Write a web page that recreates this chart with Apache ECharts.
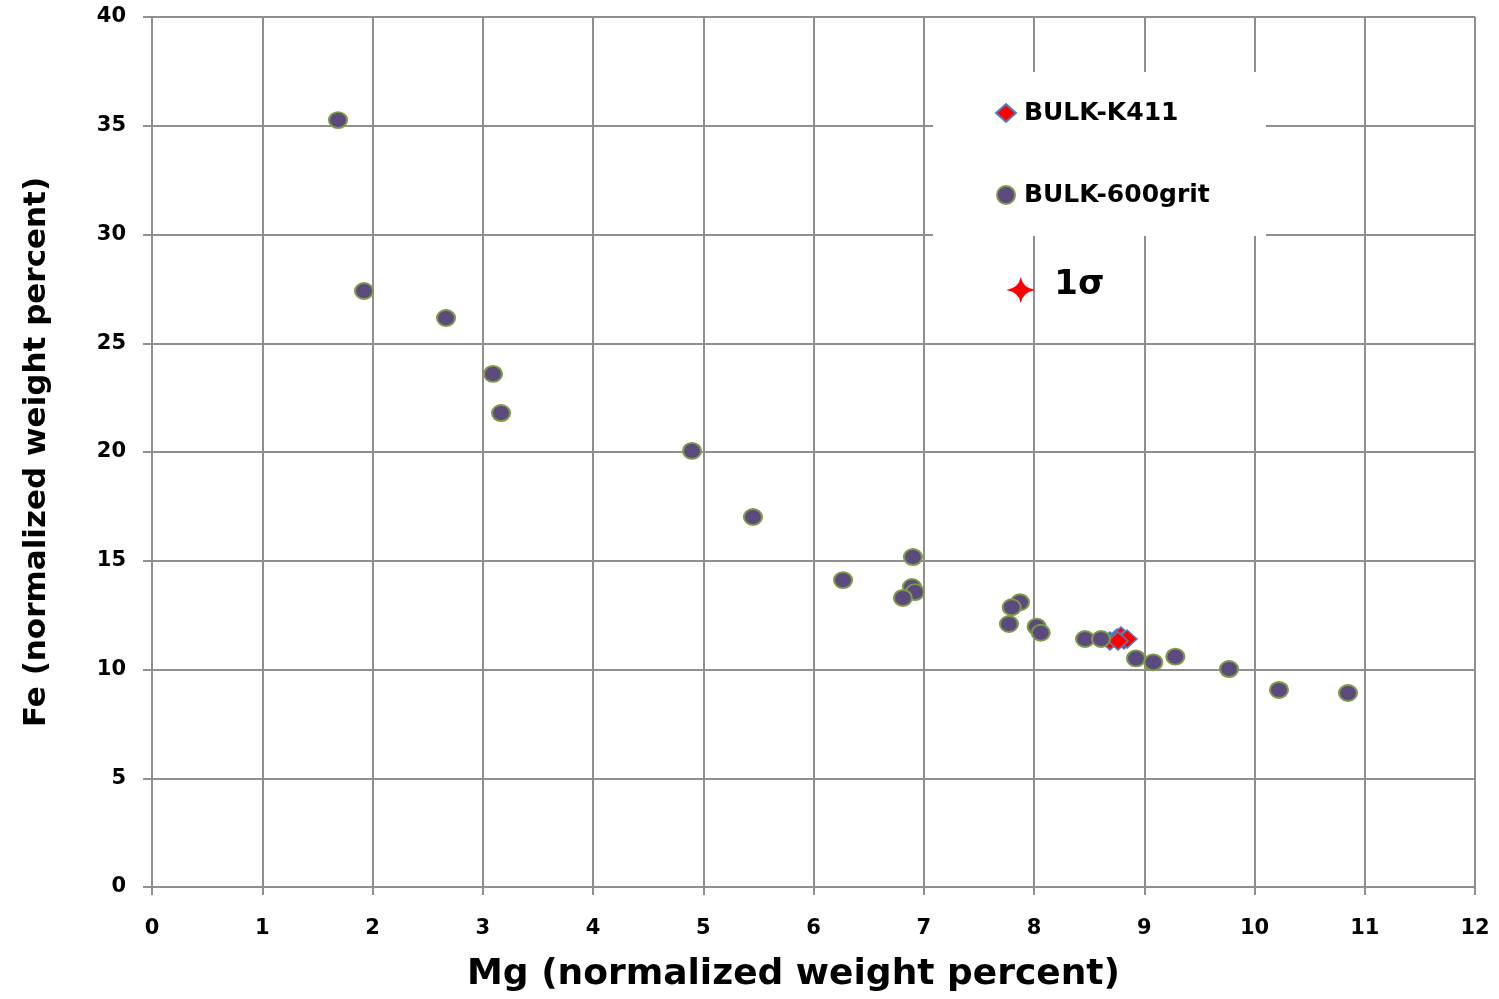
<!DOCTYPE html>
<html>
<head>
<meta charset="utf-8">
<script src="https://cdn.jsdelivr.net/npm/echarts@6/dist/echarts.min.js"></script>
<style>
html,body{margin:0;padding:0;background:#fff;}
#chart{width:1499px;height:999px;}
</style>
</head>
<body>
<div id="chart"></div>
<script>
// ---- data ----
const xTicks = [0,1,2,3,4,5,6,7,8,9,10,11,12];
const yTicks = [0,5,10,15,20,25,30,35,40];
const seriesNames = ['BULK-K411', 'BULK-600grit'];
const k411 = [
  [8.689, 11.31], [8.753, 11.45], [8.789, 11.54],
  [8.816, 11.36], [8.844, 11.40], [8.762, 11.31]
];
const grit600 = [
  [1.687, 35.26], [1.923, 27.40], [2.667, 26.16], [3.093, 23.59],
  [3.166, 21.79], [4.898, 20.05], [5.451, 17.01], [6.268, 14.11],
  [6.902, 15.17], [6.893, 13.79], [6.920, 13.56], [6.811, 13.29],
  [7.873, 13.09], [7.798, 12.86], [7.773, 12.09], [8.024, 11.97],
  [8.061, 11.69], [8.463, 11.40], [8.608, 11.40], [8.925, 10.51],
  [9.082, 10.33], [9.282, 10.59], [9.769, 10.02], [10.222, 9.06],
  [10.848, 8.92]
];
const sigmaLabel = '1σ';
const sigmaPoint = [[7.88, 27.45]];
const xName = 'Mg (normalized weight percent)';
const yName = 'Fe (normalized weight percent)';

const chart = echarts.init(document.getElementById('chart'));
const gridColor = '#8f8f8f';
const fontFam = 'DejaVu Sans';
const starPath = 'path://M0,-13 Q2,-2 14.5,0 Q2,2 0,13 Q-2,2 -14.5,0 Q-2,-2 0,-13 Z';

chart.setOption({
  animation: false,
  backgroundColor: '#fff',
  grid: { left: 152, right: 24, top: 17, bottom: 112, containLabel: false },
  xAxis: {
    type: 'value', min: xTicks[0], max: xTicks[xTicks.length-1], interval: 1,
    name: xName, nameLocation: 'middle', nameGap: 70,
    nameTextStyle: { fontFamily: fontFam, fontWeight: 'bold', fontSize: 36, color: '#000', padding: [0, 40, 0, 0] },
    axisLine: { show: true, lineStyle: { color: gridColor, width: 2 } },
    axisTick: { show: true, inside: false, length: 8, lineStyle: { color: gridColor, width: 2 } },
    axisLabel: { fontFamily: fontFam, fontWeight: 'bold', fontSize: 21, color: '#000', margin: 31 },
    splitLine: { show: true, lineStyle: { color: gridColor, width: 2 } }
  },
  yAxis: {
    type: 'value', min: yTicks[0], max: yTicks[yTicks.length-1], interval: 5,
    name: yName, nameLocation: 'middle', nameGap: 100, nameRotate: 90,
    nameTextStyle: { fontFamily: fontFam, fontWeight: 'bold', fontSize: 31, color: '#000' },
    axisLine: { show: true, lineStyle: { color: gridColor, width: 2 } },
    axisTick: { show: true, inside: false, length: 9, lineStyle: { color: gridColor, width: 2 } },
    axisLabel: { fontFamily: fontFam, fontWeight: 'bold', fontSize: 21, color: '#000', margin: 26 },
    splitLine: { show: true, lineStyle: { color: gridColor, width: 2 } }
  },
  legend: {
    data: seriesNames,
    orient: 'vertical',
    left: 990, top: 93,
    itemWidth: 20, itemHeight: 18,
    itemGap: 52,
    textStyle: { fontFamily: fontFam, fontWeight: 'bold', fontSize: 25, color: '#000', lineHeight: 30, padding: [0,0,0,3] }
  },
  graphic: [
    { type: 'rect', z: 1, silent: true,
      shape: { x: 933, y: 72, width: 333, height: 164 },
      style: { fill: '#fff' } }
  ],
  series: [
    {
      name: seriesNames[0], type: 'scatter', data: k411, z: 3,
      symbol: 'diamond', symbolSize: [20, 18],
      itemStyle: { color: '#ff0000', borderColor: '#4f81bd', borderWidth: 1.5, opacity: 1 }
    },
    {
      name: seriesNames[1], type: 'scatter', data: grit600, z: 4,
      symbol: 'circle', symbolSize: [18, 16],
      itemStyle: { color: '#5c4a7e', borderColor: '#7d9a46', borderWidth: 2, opacity: 1 }
    },
    {
      name: sigmaLabel, type: 'scatter', data: sigmaPoint, z: 5,
      symbol: starPath, symbolSize: [29, 26],
      itemStyle: { color: '#ff0000', opacity: 1 },
      label: { show: true, position: 'right', distance: 19, formatter: sigmaLabel,
        fontFamily: fontFam, fontWeight: 'bold', fontSize: 34, color: '#000', offset: [0, -5] }
    }
  ]
});
</script>
</body>
</html>
